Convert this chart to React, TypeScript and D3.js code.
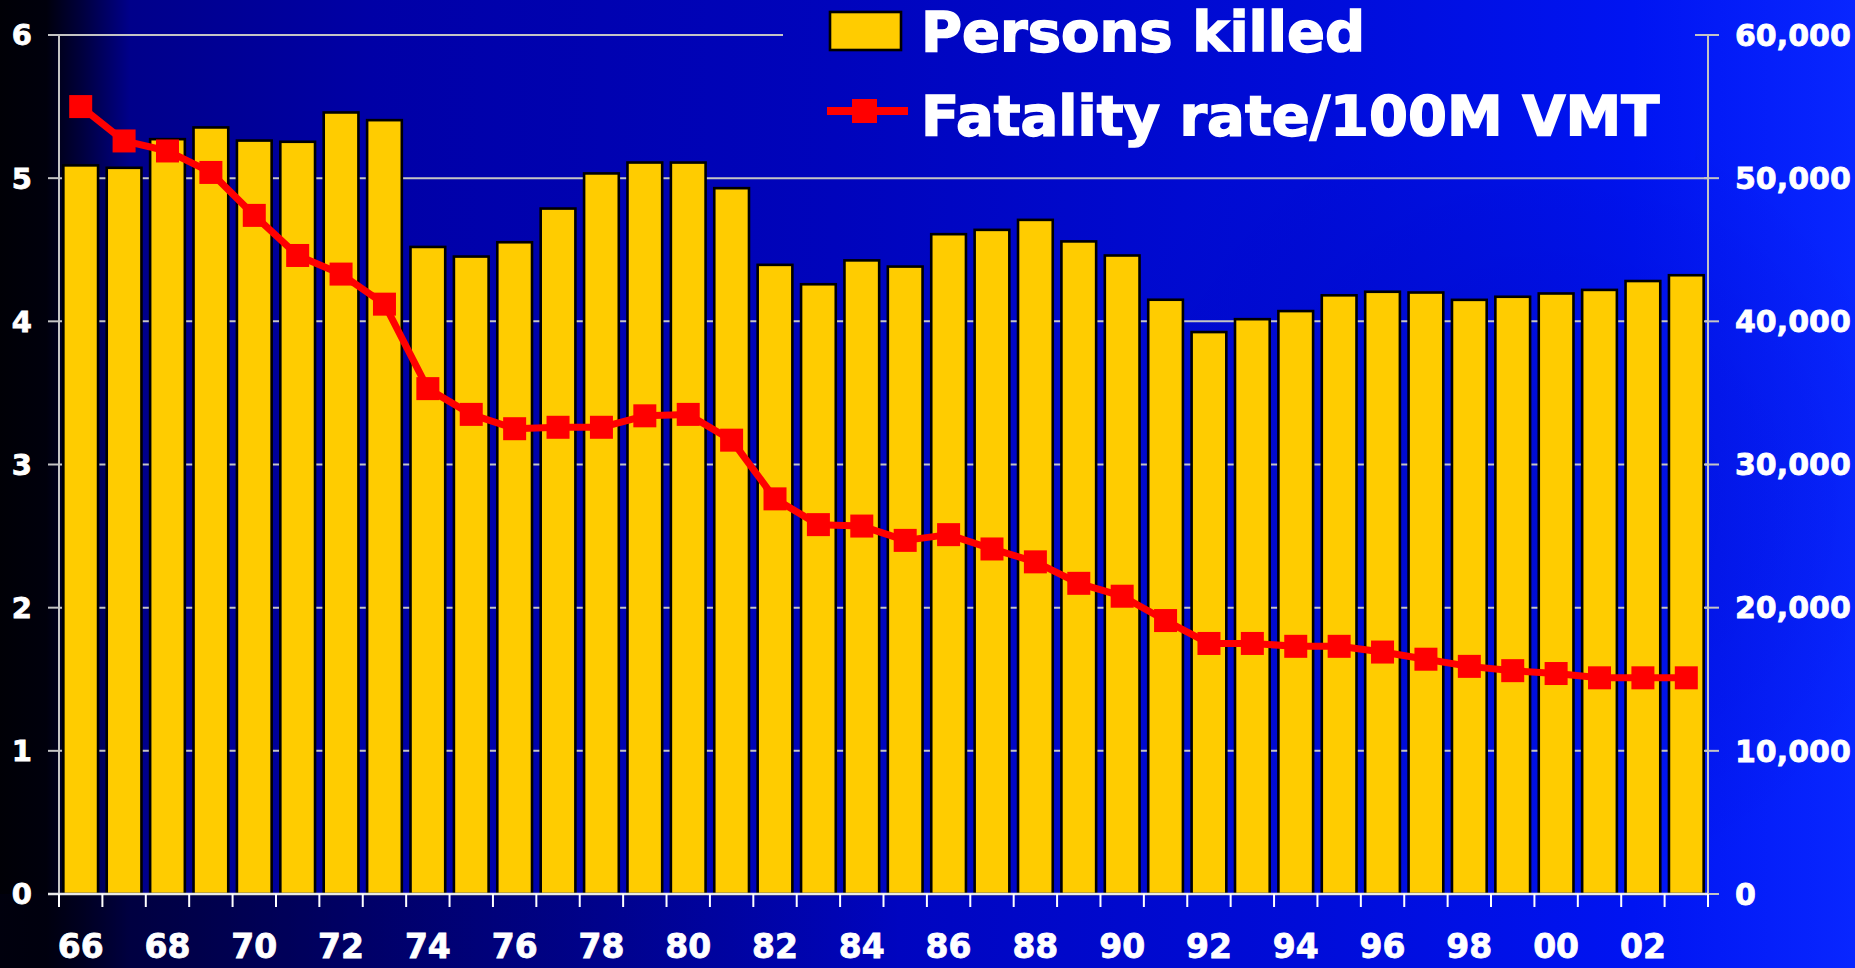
import React from 'react';
import * as d3 from 'd3';

// years 1966-2003
const years = ['66', '67', '68', '69', '70', '71', '72', '73', '74', '75', '76', '77', '78', '79', '80', '81', '82', '83', '84',
  '85', '86', '87', '88', '89', '90', '91', '92', '93', '94', '95', '96', '97', '98', '99', '00', '01', '02', '03'];

const personsKilled = [50894, 50724, 52725, 53543, 52627, 52542, 54589, 54052, 45196, 44525, 45523, 47878, 50331, 51093, 51091,
  49301, 43945, 42589, 44257, 43825, 46087, 46390, 47087, 45582, 44599, 41508, 39250, 40150, 40716, 41817, 42065, 42013,
  41501, 41717, 41945, 42196, 42815, 43220];

const fatalityRate = [5.50, 5.26, 5.19, 5.04, 4.74, 4.46, 4.33, 4.12, 3.53, 3.35, 3.25, 3.26, 3.26, 3.34, 3.35, 3.17, 2.76, 2.58,
  2.57, 2.47, 2.51, 2.41, 2.32, 2.17, 2.08, 1.91, 1.75, 1.75, 1.73, 1.73, 1.69, 1.64, 1.59, 1.56, 1.54, 1.51, 1.51, 1.51];

const leftTicks = [0, 1, 2, 3, 4, 5, 6];
const rightTicks = [0, 10000, 20000, 30000, 40000, 50000, 60000];
const labelYears = years.filter((d, i) => i % 2 === 0);

const W = 1855;
const H = 968;
const FONT = '"DejaVu Sans", Verdana, sans-serif';

export default function App() {
  const left = 59;
  const right = 1708;
  const top = 35;
  const bottom = 894;

  const x = d3.scaleBand<string>().domain(years).range([left, right]).paddingInner(0.2).paddingOuter(0.1);
  const yL = d3.scaleLinear().domain([0, 6]).range([bottom, top]);
  const yR = d3.scaleLinear().domain([0, 60000]).range([bottom, top]);
  const bw = x.bandwidth();
  const step = x.step();
  const cx = (d: string) => (x(d) as number) + bw / 2;

  const line = d3.line<number>()
    .x((d, i) => cx(years[i]))
    .y(d => yL(d));

  const fmt = d3.format(',');
  const boundaries = years.map(d => (x(d) as number) - step * 0.1).concat([right]);

  return (
    <svg width={W} height={H} style={{ position: 'absolute', left: 0, top: 0, display: 'block' }}>
      <defs>
        <linearGradient id="bg" gradientUnits="userSpaceOnUse" x1="0" y1="0" x2={W} y2="0">
          <stop offset="0" stopColor="#000006" />
          <stop offset="0.025" stopColor="#00000c" />
          <stop offset="0.045" stopColor="#000040" />
          <stop offset="0.07" stopColor="#00008a" />
          <stop offset="0.2" stopColor="#0000a6" />
          <stop offset="0.45" stopColor="#0004bc" />
          <stop offset="0.7" stopColor="#000cd8" />
          <stop offset="0.88" stopColor="#0014f2" />
          <stop offset="1" stopColor="#0826ff" />
        </linearGradient>
        <radialGradient id="shade" gradientUnits="userSpaceOnUse" cx="1500" cy="500" r="420">
          <stop offset="0" stopColor="#0000a0" stopOpacity="0.35" />
          <stop offset="1" stopColor="#0000a0" stopOpacity="0" />
        </radialGradient>
        <linearGradient id="bottomShade" gradientUnits="userSpaceOnUse" x1="0" y1="0" x2="900" y2="0">
          <stop offset="0" stopColor="#000010" stopOpacity="0.7" />
          <stop offset="1" stopColor="#000010" stopOpacity="0" />
        </linearGradient>
      </defs>

      <rect x={0} y={0} width={W} height={H} fill="url(#bg)" />
      <rect x={0} y={0} width={W} height={H} fill="url(#shade)" />
      <rect x={0} y={bottom} width={900} height={H - bottom} fill="url(#bottomShade)" />

      {/* gridlines behind bars */}
      {leftTicks.filter(t => t > 0).map(t => (
        <line key={t} x1={left} x2={right} y1={yL(t)} y2={yL(t)} stroke="#c4c4c4" strokeWidth={2} />
      ))}

      {/* legend box hides the top gridline */}
      <rect x={783} y={0} width={912} height={160} fill="url(#bg)" />

      {/* bars */}
      {personsKilled.map((v, i) => (
        <rect key={years[i]} x={x(years[i])} y={yR(v)} width={bw} height={bottom - yR(v)}
          fill="#ffcc00" stroke="#000" strokeWidth={2.6} />
      ))}

      {/* left axis */}
      <line x1={left} x2={left} y1={top} y2={bottom} stroke="#c4c4c4" strokeWidth={2} />
      {leftTicks.map(t => (
        <g key={t}>
          <line x1={left - 11} x2={left} y1={yL(t)} y2={yL(t)} stroke="#c4c4c4" strokeWidth={2} />
          <text x={32} y={yL(t)} dy="0.36em" textAnchor="end" fill="#fff" stroke="#fff" strokeWidth={0.8}
            fontFamily={FONT} fontWeight="bold" fontSize={29}>{t}</text>
        </g>
      ))}

      {/* right axis */}
      <line x1={right} x2={right} y1={top} y2={bottom + 12} stroke="#c4c4c4" strokeWidth={2} />
      {rightTicks.map(t => (
        <g key={t}>
          <line x1={right - 4} x2={right + 11} y1={yR(t)} y2={yR(t)} stroke="#c4c4c4" strokeWidth={2} />
          <text x={1735} y={yR(t)} dy="0.36em" textAnchor="start" fill="#fff" stroke="#fff" strokeWidth={0.8}
            fontFamily={FONT} fontWeight="bold" fontSize={30}>{fmt(t)}</text>
        </g>
      ))}

      {/* x axis */}
      <line x1={left - 11} x2={right} y1={bottom} y2={bottom} stroke="#e8e8e8" strokeWidth={2.5} />
      {boundaries.map((b, i) => (
        <line key={i} x1={b} x2={b} y1={bottom} y2={bottom + 13} stroke="#fff" strokeWidth={2} />
      ))}
      {labelYears.map(d => (
        <text key={d} x={cx(d)} y={958} textAnchor="middle" fill="#fff" stroke="#fff" strokeWidth={0.8}
          fontFamily={FONT} fontWeight="bold" fontSize={33}>{d}</text>
      ))}

      {/* fatality rate line */}
      <path d={line(fatalityRate) || ''} fill="none" stroke="#ff0000" strokeWidth={7} strokeLinejoin="round" />
      {fatalityRate.map((v, i) => (
        <rect key={years[i]} x={cx(years[i]) - 11.5} y={yL(v) - 11.5} width={23} height={23} fill="#ff0000" />
      ))}

      {/* legend */}
      <rect x={830} y={12} width={71} height={38} fill="#ffcc00" stroke="#000" strokeWidth={2.6} />
      <text x={921} y={51} fill="#fff" stroke="#fff" strokeWidth={1.5} fontFamily={FONT} fontWeight="bold"
        fontSize={56}>Persons killed</text>
      <line x1={827} x2={908} y1={111} y2={111} stroke="#ff0000" strokeWidth={8} />
      <rect x={852} y={99} width={25} height={24} fill="#ff0000" />
      <text x={921} y={135} fill="#fff" stroke="#fff" strokeWidth={1.5} fontFamily={FONT} fontWeight="bold"
        fontSize={56}>Fatality rate/100M VMT</text>
    </svg>
  );
}
